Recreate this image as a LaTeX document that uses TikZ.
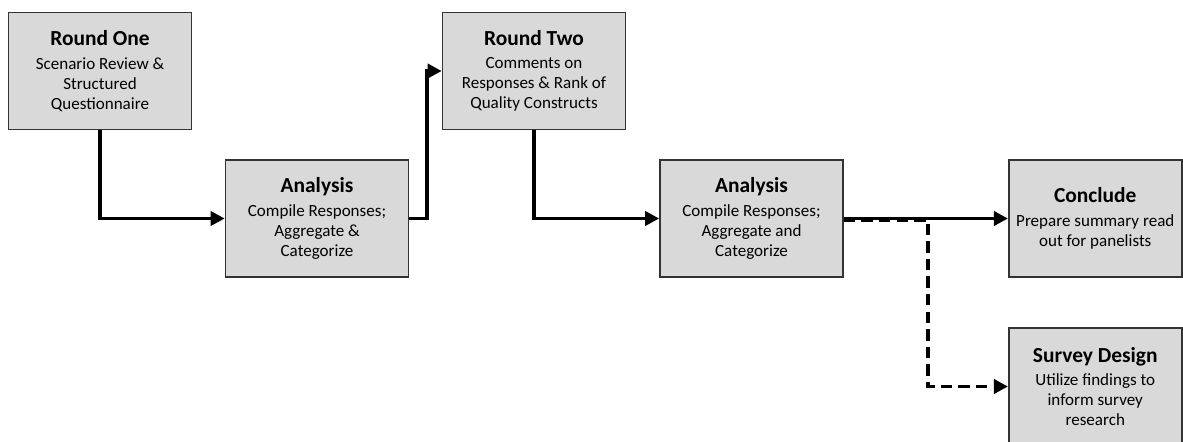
\documentclass[tikz,border=0pt]{standalone}
\usepackage{fontspec}
\setmainfont{Carlito}
\usetikzlibrary{arrows.meta}

\newcommand{\stagehead}[1]{{\fontsize{12.2}{12}\selectfont\bfseries #1}\\[2pt]}

\begin{document}
\begin{tikzpicture}[
	stage/.style={draw=black!80, line width=0.9pt, fill=black!15, minimum width=3.66cm, minimum height=2.34cm, align=center, inner sep=2pt, font=\fontsize{9.7}{11.4}\selectfont},
	flow/.style={line width=2.2pt, -{Triangle[length=8pt,width=8pt]}},
	maybe/.style={flow, dash pattern=on 6.5pt off 3.5pt}]
	\useasboundingbox (0,0) rectangle (23.66,8.82);

	%ROUNDS AND ANALYSIS
	\node[stage] (r1) at (2.0,7.4) {\stagehead{Round One}Scenario Review \&\\ Structured\\ Questionnaire};
	\node[stage] (a1) at (6.34,4.45) {\stagehead{Analysis}Compile Responses;\\ Aggregate \&\\ Categorize};
	\node[stage] (r2) at (10.68,7.4) {\stagehead{Round Two}Comments on\\ Responses \& Rank of\\ Quality Constructs};
	\node[stage] (a2) at (15.03,4.45) {\stagehead{Analysis}Compile Responses;\\ Aggregate and\\ Categorize};

	%OUTCOMES
	\node[stage, minimum width=3.46cm] (end) at (21.905,4.45) {\stagehead{Conclude}Prepare summary read\\ out for panelists};
	\node[stage, minimum width=3.46cm] (sd) at (21.905,1.09) {\stagehead{Survey Design}Utilize findings to\\ inform survey\\ research};

	%ARROWS
	\draw[flow] (r1.south) |- (a1.west);
	\draw[flow] (a1.east) -- ++(0.35,0) |- (r2.west);
	\draw[flow] (r2.south) |- (a2.west);
	\draw[flow] (a2.east) -- (end.west);
	\draw[maybe] ([yshift=-0.8pt]a2.east) -- ++(1.68,0) |- (sd.west); %dashed branch
\end{tikzpicture}
\end{document}
